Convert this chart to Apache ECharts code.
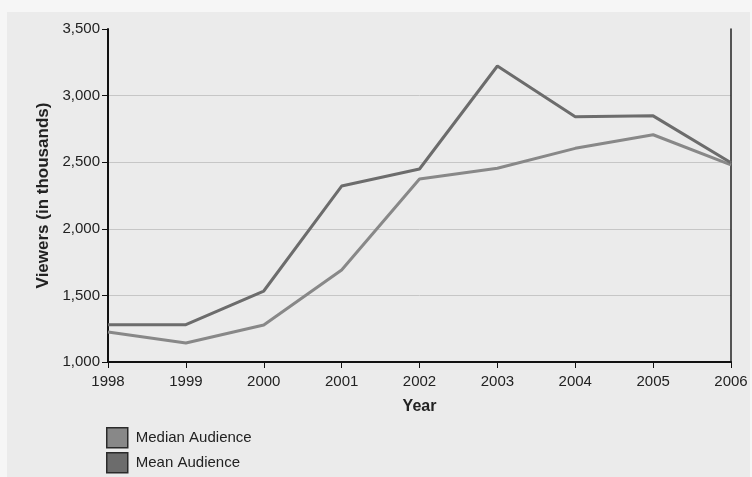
<!DOCTYPE html>
<html>
<head>
<meta charset="utf-8">
<script src="https://cdn.jsdelivr.net/npm/echarts@6/dist/echarts.min.js"></script>
<style>
  html, body { margin: 0; padding: 0; background: #f6f6f6; }
  #wrap { position: relative; width: 752px; height: 477px; overflow: hidden; }
  #panel { position: absolute; left: 7px; top: 12px; width: 743px; height: 465px; background: #ebebeb; }
  #chart { position: absolute; left: 0; top: 0; width: 752px; height: 477px; }
</style>
</head>
<body>
<div id="wrap">
  <div id="panel"></div>
  <div id="chart"></div>
</div>
<script>
// Audience per year, in thousands of viewers
const years = ['1998', '1999', '2000', '2001', '2002', '2003', '2004', '2005', '2006'];
const medianAudience = [1225, 1143, 1278, 1690, 2374, 2454, 2604, 2706, 2480];
const meanAudience = [1280, 1280, 1533, 2321, 2449, 3222, 2841, 2848, 2496];
const seriesNames = ['Median Audience', 'Mean Audience'];
const seriesColors = ['#888888', '#6c6c6c'];

const chart = echarts.init(document.getElementById('chart'));
const fmt = v => v.toLocaleString('en-US');
const font = 'Liberation Sans, Arial, sans-serif';

// one legend box per series, stacked under the plot
const legendFor = (name, top) => ({
  left: 101,
  top: top,
  icon: 'rect',
  itemWidth: 21,
  itemHeight: 20,
  itemStyle: { borderColor: '#2a2a2a', borderWidth: 1.5 },
  textStyle: { fontSize: 15, color: '#222', fontFamily: font, padding: [0, 0, 0, 3] },
  data: [name]
});

chart.setOption({
  backgroundColor: 'transparent',
  animation: false,
  textStyle: { fontFamily: font },
  grid: { left: 108, right: 21, top: 29, bottom: 115 },
  legend: [legendFor(seriesNames[0], 422), legendFor(seriesNames[1], 447)],
  xAxis: {
    type: 'category',
    data: years,
    boundaryGap: false,
    name: 'Year',
    nameLocation: 'middle',
    nameGap: 37,
    nameTextStyle: { fontWeight: 'bold', fontSize: 16, color: '#222' },
    axisLine: { lineStyle: { color: '#111', width: 2 } },
    axisTick: { show: true, length: 6, lineStyle: { color: '#111' } },
    axisLabel: { fontSize: 15, color: '#222', margin: 12 },
    splitLine: { show: false }
  },
  yAxis: [{
    type: 'value',
    min: 1000,
    max: 3500,
    interval: 500,
    name: 'Viewers (in thousands)',
    nameLocation: 'middle',
    nameGap: 53,
    nameTextStyle: { fontWeight: 'bold', fontSize: 17, color: '#222' },
    axisLine: { show: true, lineStyle: { color: '#111', width: 2 } },
    axisTick: { show: true, length: 6, lineStyle: { color: '#111' } },
    axisLabel: { fontSize: 15, color: '#222', margin: 8, formatter: fmt },
    splitLine: {
      show: true,
      lineStyle: {
        color: ['transparent', '#c6c6c6', '#c6c6c6', '#c6c6c6', '#c6c6c6', 'transparent'],
        width: 1
      }
    }
  }, {
    type: 'value',
    position: 'right',
    min: 1000,
    max: 3500,
    interval: 500,
    axisLine: { show: true, lineStyle: { color: '#222', width: 1.5 } },
    axisTick: { show: false },
    axisLabel: { show: false },
    splitLine: { show: false }
  }],
  series: [{
    name: seriesNames[0],
    type: 'line',
    data: medianAudience,
    symbol: 'none',
    color: seriesColors[0],
    lineStyle: { color: seriesColors[0], width: 3 },
    z: 2
  }, {
    name: seriesNames[1],
    type: 'line',
    data: meanAudience,
    symbol: 'none',
    color: seriesColors[1],
    lineStyle: { color: seriesColors[1], width: 3 },
    z: 3
  }]
});
</script>
</body>
</html>
